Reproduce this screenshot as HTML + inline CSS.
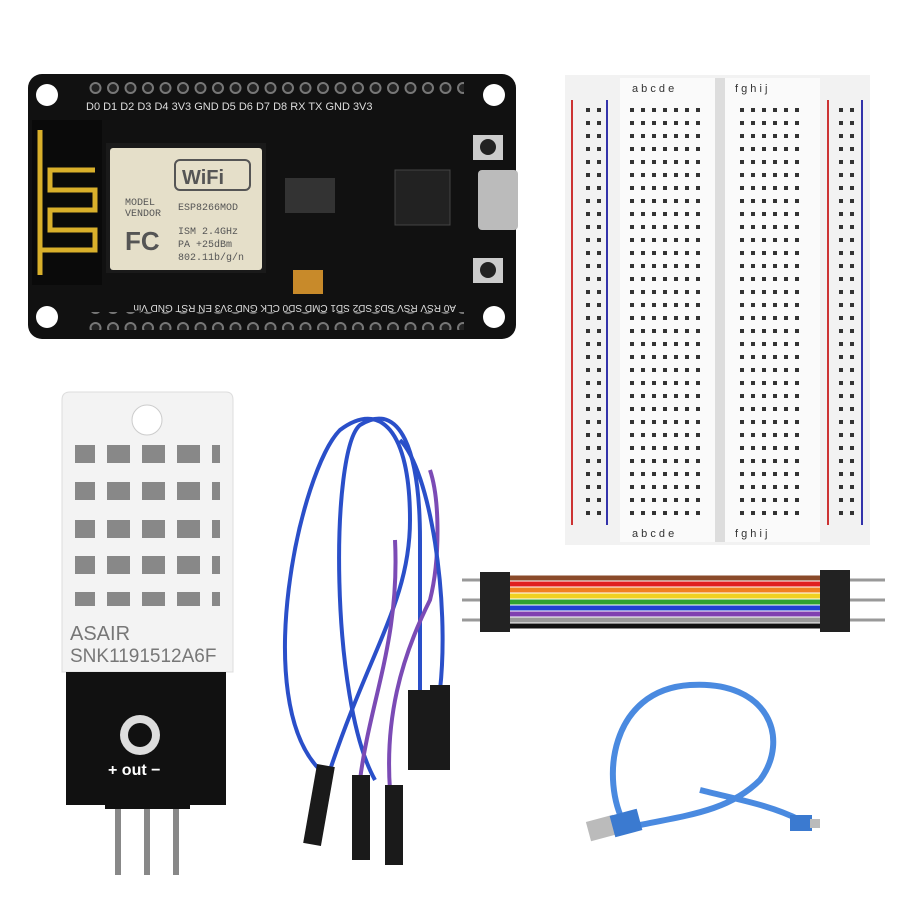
<!DOCTYPE html>
<html><head><meta charset="utf-8"><style>
html,body{margin:0;padding:0;background:#fff;}
svg{display:block;font-family:"Liberation Sans",sans-serif;}
</style></head><body>
<svg width="900" height="900" viewBox="0 0 900 900" xmlns="http://www.w3.org/2000/svg">
<rect width="900" height="900" fill="#fff"/>
<defs>
<pattern id="bbdots" x="0" y="0" width="11" height="13" patternUnits="userSpaceOnUse"><rect x="3" y="4" width="4" height="4" fill="#333"/></pattern>
<pattern id="pins" x="0" y="0" width="17.5" height="20" patternUnits="userSpaceOnUse"><circle cx="8" cy="8" r="5" fill="#222" stroke="#777" stroke-width="2"/></pattern>
</defs>
<!-- ESP board -->
<rect x="28" y="74" width="488" height="265" rx="14" fill="#111"/>
<circle cx="47" cy="95" r="11" fill="#fff"/><circle cx="494" cy="95" r="11" fill="#fff"/>
<circle cx="47" cy="317" r="11" fill="#fff"/><circle cx="494" cy="317" r="11" fill="#fff"/>
<rect x="84" y="80" width="380" height="18" fill="url(#pins)"/>
<g fill="#ddd" font-size="11"><text x="86" y="110">D0 D1 D2 D3 D4 3V3 GND D5 D6 D7 D8 RX TX GND 3V3</text></g>
<rect x="84" y="312" width="380" height="18" fill="url(#pins)"/>
<g fill="#ddd" font-size="10"><text x="84" y="305" transform="rotate(180 270 305)">A0 RSV RSV SD3 SD2 SD1 CMD SD0 CLK GND 3V3 EN RST GND Vin</text></g>
<rect x="32" y="120" width="70" height="165" fill="#0a0a0a"/>
<path d="M40 275 V130 M40 250 H95 V230 H50 V210 H95 V190 H50 V170 H95" stroke="#d9b02b" stroke-width="5" fill="none"/>
<rect x="106" y="143" width="160" height="130" fill="#1a1a1a"/>
<rect x="110" y="148" width="152" height="122" rx="3" fill="#e5dfc9"/>
<rect x="175" y="160" width="75" height="30" rx="5" fill="none" stroke="#555" stroke-width="2"/>
<text x="182" y="184" font-size="20" fill="#555" font-weight="bold">WiFi</text>
<g fill="#555" font-size="10" font-family="Liberation Mono,monospace"><text x="125" y="205">MODEL</text><text x="125" y="216">VENDOR</text><text x="178" y="210">ESP8266MOD</text><text x="178" y="234">ISM 2.4GHz</text><text x="178" y="247">PA  +25dBm</text><text x="178" y="260">802.11b/g/n</text></g>
<text x="125" y="250" font-size="26" fill="#555" font-weight="bold">FC</text>
<rect x="285" y="178" width="50" height="35" fill="#333"/><rect x="395" y="170" width="55" height="55" fill="#222" stroke="#444"/>
<rect x="478" y="170" width="40" height="60" rx="4" fill="#bbb"/>
<rect x="473" y="135" width="30" height="25" fill="#ccc"/><circle cx="488" cy="147" r="8" fill="#222"/>
<rect x="473" y="258" width="30" height="25" fill="#ccc"/><circle cx="488" cy="270" r="8" fill="#222"/>
<rect x="293" y="270" width="30" height="24" fill="#c88a2a"/>
<!-- breadboard -->
<rect x="565" y="75" width="305" height="470" fill="#f2f2f2"/>
<rect x="620" y="78" width="95" height="464" fill="#fafafa"/><rect x="725" y="78" width="95" height="464" fill="#fafafa"/>
<rect x="715" y="78" width="10" height="464" fill="#ddd"/>
<line x1="572" y1="100" x2="572" y2="525" stroke="#c33" stroke-width="2"/><line x1="607" y1="100" x2="607" y2="525" stroke="#33a" stroke-width="2"/>
<line x1="828" y1="100" x2="828" y2="525" stroke="#c33" stroke-width="2"/><line x1="862" y1="100" x2="862" y2="525" stroke="#33a" stroke-width="2"/>
<rect x="583" y="100" width="22" height="420" fill="url(#bbdots)"/>
<rect x="627" y="100" width="77" height="420" fill="url(#bbdots)"/>
<rect x="737" y="100" width="66" height="420" fill="url(#bbdots)"/>
<rect x="836" y="100" width="22" height="420" fill="url(#bbdots)"/>
<g font-size="11" fill="#333"><text x="632" y="92">a b c d e</text><text x="735" y="92">f g h i j</text><text x="632" y="537">a b c d e</text><text x="735" y="537">f g h i j</text></g>
<!-- DHT22 -->
<path d="M62 400 Q62 392 70 392 H226 Q233 392 233 400 V672 H62 Z" fill="#f3f3f3" stroke="#ddd"/>
<circle cx="147" cy="420" r="15" fill="#fff" stroke="#ccc"/>
<g fill="#888">
<rect x="75" y="445" width="145" height="18"/>
<rect x="75" y="482" width="145" height="18"/><rect x="75" y="520" width="145" height="18"/><rect x="75" y="556" width="145" height="18"/><rect x="75" y="592" width="145" height="14"/></g>
<g fill="#f3f3f3"><rect x="95" y="440" width="12" height="170"/><rect x="130" y="440" width="12" height="170"/><rect x="165" y="440" width="12" height="170"/><rect x="200" y="440" width="12" height="170"/></g>
<text x="70" y="640" font-size="20" fill="#777">ASAIR</text><text x="70" y="662" font-size="19" fill="#777">SNK1191512A6F</text>
<rect x="66" y="672" width="160" height="133" fill="#111"/>
<circle cx="140" cy="735" r="20" fill="#ddd"/><circle cx="140" cy="735" r="12" fill="#111"/>
<text x="108" y="775" font-size="16" fill="#fff" font-weight="bold">+ out −</text>
<g stroke="#888" stroke-width="6"><line x1="118" y1="795" x2="118" y2="875"/><line x1="147" y1="795" x2="147" y2="875"/><line x1="176" y1="795" x2="176" y2="875"/></g>
<rect x="105" y="795" width="85" height="14" fill="#111"/>
<!-- jumper wires -->
<g fill="none" stroke-width="4">
<path d="M320 770 C250 700 300 470 340 430 C380 400 410 430 410 520 C410 600 370 650 330 770" stroke="#2a4fc9"/>
<path d="M375 780 C330 700 330 450 360 425 C400 400 420 450 420 540 C420 620 420 680 420 690" stroke="#2a4fc9"/>
<path d="M360 780 C370 700 400 640 395 540" stroke="#7b4bb5"/>
<path d="M390 790 C385 720 400 660 430 600 C440 560 440 500 430 470" stroke="#7b4bb5"/>
<path d="M440 690 C450 600 430 470 400 440" stroke="#2a4fc9"/>
</g>
<g fill="#1a1a1a"><rect x="310" y="765" width="18" height="80" transform="rotate(10 319 805)"/><rect x="352" y="775" width="18" height="85"/><rect x="385" y="785" width="18" height="80"/><rect x="408" y="690" width="22" height="80"/><rect x="430" y="685" width="20" height="85"/></g>
<!-- ribbon -->
<rect x="480" y="572" width="30" height="60" fill="#222"/><rect x="820" y="570" width="30" height="62" fill="#222"/>
<g stroke-width="5">
<line x1="510" y1="578" x2="820" y2="578" stroke="#8a4a2a"/><line x1="510" y1="584" x2="820" y2="584" stroke="#e02020"/><line x1="510" y1="590" x2="820" y2="590" stroke="#f08020"/><line x1="510" y1="596" x2="820" y2="596" stroke="#f0d020"/><line x1="510" y1="602" x2="820" y2="602" stroke="#30a030"/><line x1="510" y1="608" x2="820" y2="608" stroke="#2040d0"/><line x1="510" y1="614" x2="820" y2="614" stroke="#8040b0"/><line x1="510" y1="620" x2="820" y2="620" stroke="#999"/><line x1="510" y1="626" x2="820" y2="626" stroke="#111"/>
</g>
<g stroke="#999" stroke-width="3"><line x1="462" y1="580" x2="480" y2="580"/><line x1="462" y1="600" x2="480" y2="600"/><line x1="462" y1="620" x2="480" y2="620"/><line x1="850" y1="580" x2="885" y2="580"/><line x1="850" y1="600" x2="885" y2="600"/><line x1="850" y1="620" x2="885" y2="620"/></g>
<!-- USB cable -->
<path d="M625 825 C600 780 610 690 690 685 C770 680 790 740 760 780 C730 810 690 815 640 825 M700 790 C740 800 770 805 800 820" fill="none" stroke="#4a8ae0" stroke-width="6"/>
<rect x="588" y="818" width="28" height="20" fill="#bbb" transform="rotate(-15 602 828)"/><rect x="612" y="812" width="28" height="22" fill="#3b7ad0" transform="rotate(-15 626 823)"/>
<rect x="790" y="815" width="22" height="16" fill="#3b7ad0"/><rect x="810" y="819" width="10" height="9" fill="#bbb"/>
</svg>
</body></html>
